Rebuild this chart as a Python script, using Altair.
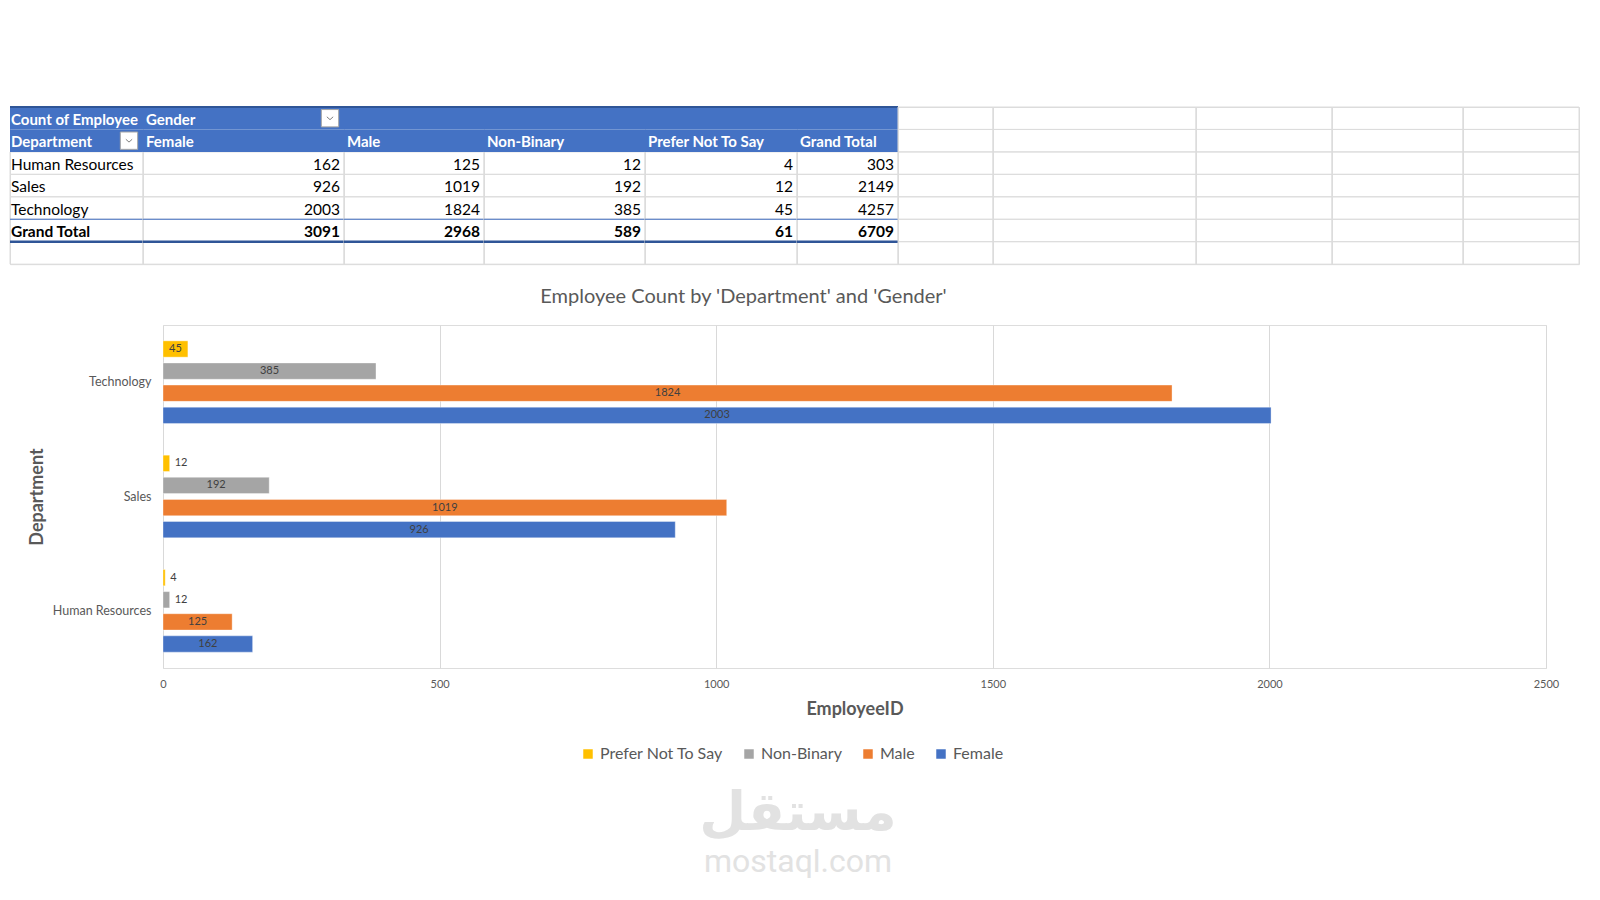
import altair as alt
import pandas as pd

# ---------------- data ----------------
departments = ["Human Resources", "Sales", "Technology"]
genders = ["Female", "Male", "Non-Binary", "Prefer Not To Say"]
female = [162, 926, 2003]
male = [125, 1019, 1824]
non_binary = [12, 192, 385]
prefer_not = [4, 12, 45]

legend_order = ["Prefer Not To Say", "Non-Binary", "Male", "Female"]
dept_order = ["Technology", "Sales", "Human Resources"]
x_ticks = [0, 500, 1000, 1500, 2000, 2500]

chart_title = "Employee Count by 'Department' and 'Gender'"
x_title = "EmployeeID"
y_title = "Department"
pivot_corner = "Count of Employee"
pivot_col_field = "Gender"
pivot_row_field = "Department"
grand_total = "Grand Total"
watermark_ar = "مستقل"
watermark_en = "mostaql.com"

# ---------------- styles ----------------
FONT = "Lato"
GRAY_TXT = "#595959"
color_map = {"Female": "#4472C4", "Male": "#ED7D31", "Non-Binary": "#A5A5A5", "Prefer Not To Say": "#FFC000"}
HEADER_BLUE = "#4472C4"
DARK_BLUE = "#2F5597"
GRID = "#DCDCDC"

series = {"Female": female, "Male": male, "Non-Binary": non_binary, "Prefer Not To Say": prefer_not}
bar_df = pd.DataFrame(
    [{"Department": d, "Gender": g, "Count": series[g][i]} for g in genders for i, d in enumerate(departments)]
)

# ---------------- pivot table ----------------
ROW_H = 22.45
N_ROWS = 7
TABLE_H = ROW_H * N_ROWS
col_widths = [133, 201, 140, 161, 152, 101]
extra_widths = [95, 203, 136, 131, 116]

row_totals = [female[i] + male[i] + non_binary[i] + prefer_not[i] for i in range(len(departments))]

columns_cells = []
c0 = [{"row": 0, "text": pivot_corner, "kind": "head"}, {"row": 1, "text": pivot_row_field, "kind": "head"}]
c0 += [{"row": 2 + i, "text": d, "kind": "label"} for i, d in enumerate(departments)]
c0 += [{"row": 5, "text": grand_total, "kind": "total_label"}]
columns_cells.append(c0)
for j, g in enumerate(genders):
    cells = []
    if j == 0:
        cells.append({"row": 0, "text": pivot_col_field, "kind": "head"})
    cells.append({"row": 1, "text": g, "kind": "head"})
    cells += [{"row": 2 + i, "text": str(v), "kind": "num"} for i, v in enumerate(series[g])]
    cells.append({"row": 5, "text": str(sum(series[g])), "kind": "total_num"})
    columns_cells.append(cells)
c5 = [{"row": 1, "text": grand_total, "kind": "head"}]
c5 += [{"row": 2 + i, "text": str(v), "kind": "num"} for i, v in enumerate(row_totals)]
c5 += [{"row": 5, "text": str(sum(row_totals)), "kind": "total_num"}]
columns_cells.append(c5)

button_cells = {0: [1], 1: [0]}

row_scale = alt.Scale(domain=list(range(N_ROWS)), paddingInner=0, paddingOuter=0)
yenc = alt.Y("row:O", scale=row_scale, axis=None)
rows_df = pd.DataFrame({"row": list(range(N_ROWS))})


def table_column(cells, width, is_table=True, buttons=(), pad_left=3):
    layers = []
    grid_rows = rows_df[rows_df.row >= 2] if is_table else rows_df
    layers.append(
        alt.Chart(grid_rows).mark_bar(fillOpacity=0, stroke=GRID, strokeWidth=1).encode(y=yenc)
    )
    if is_table:
        layers.append(
            alt.Chart(rows_df[rows_df.row < 2]).mark_bar(color=HEADER_BLUE).encode(y=yenc)
        )
        df = pd.DataFrame(cells)
        styles = {
            "head": dict(align="left", fontWeight="bold", color="white", fontSize=15),
            "label": dict(align="left", fontWeight="normal", color="black", fontSize=15.5),
            "total_label": dict(align="left", fontWeight="bold", color="black", fontSize=15.5),
            "num": dict(align="right", fontWeight="normal", color="black", fontSize=15.5),
            "total_num": dict(align="right", fontWeight="bold", color="black", fontSize=15.5),
        }
        for kind, st in styles.items():
            sub = df[df.kind == kind]
            if len(sub) == 0:
                continue
            xv = pad_left if st["align"] == "left" else width - 4
            layers.append(
                alt.Chart(sub)
                .mark_text(baseline="middle", font=FONT, dy=1.5, **st)
                .encode(x=alt.value(xv), y=yenc, text="text:N")
            )
        rules = [(0, 2.2, DARK_BLUE), (5, 1.2, HEADER_BLUE), (6, 2.6, DARK_BLUE)]
        for r, w, c in rules:
            layers.append(
                alt.Chart(pd.DataFrame({"row": [r]}))
                .mark_rule(strokeWidth=w, color=c)
                .encode(y=alt.Y("row:O", scale=row_scale, axis=None, bandPosition=0))
            )
        if buttons:
            bdf = pd.DataFrame({"row": list(buttons)})
            layers.append(
                alt.Chart(bdf)
                .mark_point(shape="square", filled=True, fill="white", stroke="#A6A6A6",
                            strokeWidth=1, size=300, opacity=1)
                .encode(x=alt.value(width - 14), y=yenc)
            )
            layers.append(
                alt.Chart(bdf)
                .mark_point(shape="M-1,-0.45L0,0.45L1,-0.45", filled=False, stroke="#7F7F7F",
                            strokeWidth=1, size=40, opacity=1)
                .encode(x=alt.value(width - 14), y=yenc)
            )
    return alt.layer(*layers).properties(width=width, height=TABLE_H)


table_cols = []
for j, w in enumerate(col_widths):
    table_cols.append(
        table_column(columns_cells[j], w, True, button_cells.get(j, ()), pad_left=1 if j == 0 else 3)
    )
for w in extra_widths:
    table_cols.append(table_column([], w, False))
table_row = alt.hconcat(*table_cols, spacing=0, bounds="flush").resolve_scale(
    y="independent", x="independent"
)

# ---------------- bar chart ----------------
y_scale = alt.Scale(domain=dept_order, paddingInner=0.227, paddingOuter=0.1135)
yoff_scale = alt.Scale(domain=legend_order, paddingInner=0.263, paddingOuter=0.13)
x_scale = alt.Scale(domain=[0, 2500], nice=False)
x_axis = alt.Axis(
    title=x_title, values=x_ticks, grid=True, gridColor="#D9D9D9", gridWidth=1, domain=False,
    ticks=False, labelFlush=False, labelFont=FONT, labelFontSize=11, labelColor=GRAY_TXT,
    labelPadding=10, titleFont=FONT, titleFontSize=18, titleFontWeight="bold",
    titleColor=GRAY_TXT, titlePadding=11, format="d",
)
y_axis = alt.Axis(
    title=y_title, domain=False, ticks=False, grid=False, labelFont=FONT, labelFontSize=12.5,
    labelColor=GRAY_TXT, labelPadding=12, titleFont=FONT, titleFontSize=18,
    titleFontWeight="bold", titleColor=GRAY_TXT, titlePadding=6,
)

base = alt.Chart(bar_df).encode(
    y=alt.Y("Department:N", scale=y_scale, sort=dept_order, axis=y_axis),
    yOffset=alt.YOffset("Gender:N", scale=yoff_scale, sort=legend_order),
)

bars = base.mark_bar(stroke="white", strokeWidth=0.6, strokeOpacity=0.6).encode(
    x=alt.X("Count:Q", scale=x_scale, axis=x_axis),
    color=alt.Color(
        "Gender:N",
        scale=alt.Scale(domain=legend_order, range=[color_map[g] for g in legend_order]),
        sort=legend_order,
        legend=alt.Legend(
            title=None, orient="none", legendX=417, legendY=421, direction="horizontal",
            symbolType="square", symbolSize=90, symbolStrokeWidth=0, labelFont=FONT,
            labelFontSize=16, labelColor=GRAY_TXT, columnPadding=18, labelOffset=4,
        ),
    ),
)

labels_in = (
    base.transform_filter("datum.Count >= 30")
    .transform_calculate(mid="datum.Count / 2")
    .mark_text(font=FONT, fontSize=11, color="#404040", baseline="middle", align="center")
    .encode(x=alt.X("mid:Q", scale=x_scale, axis=x_axis), text=alt.Text("Count:Q"))
)
labels_out = (
    base.transform_filter("datum.Count < 30")
    .mark_text(font=FONT, fontSize=11, color="#404040", baseline="middle", align="left", dx=5)
    .encode(x=alt.X("Count:Q", scale=x_scale, axis=x_axis), text=alt.Text("Count:Q"))
)

bar_chart = alt.layer(bars, labels_in, labels_out).properties(
    width=1383,
    height=343,
    title=alt.TitleParams(
        chart_title, font=FONT, fontSize=20, fontWeight="normal", color=GRAY_TXT,
        anchor="middle", frame="group", dx=-111, offset=18,
    ),
)

spacer = alt.Chart(pd.DataFrame({"s": [0]})).mark_point(size=0, opacity=0).properties(width=1, height=1)
chart_row = (
    alt.hconcat(spacer, bar_chart, spacing=16)
    .resolve_scale(y="independent", x="independent", color="independent")
    .resolve_legend(color="independent")
)

# ---------------- watermark ----------------
wm_df = pd.DataFrame({"ar": [watermark_ar], "en": [watermark_en]})
wm_ar = alt.Chart(wm_df).mark_text(
    font="DejaVu Sans", fontWeight="bold", fontSize=54, color="#E2E2E2", baseline="middle", dy=-19
).encode(text="ar:N")
wm_en = alt.Chart(wm_df).mark_text(
    font="Roboto", fontSize=32, color="#E2E2E2", baseline="middle", dy=29
).encode(text="en:N")
watermark = alt.layer(wm_ar, wm_en).properties(width=1576, height=100)

chart = (
    alt.vconcat(table_row, chart_row, watermark, spacing=20)
    .resolve_scale(y="independent", x="independent", color="independent")
    .resolve_legend(color="independent")
    .properties(padding={"left": 0, "top": 97, "right": 0, "bottom": 0})
    .configure_view(strokeWidth=0)
    .configure(font=FONT)
)

chart.save("out.html", embed_options={"renderer": "svg", "actions": False})
